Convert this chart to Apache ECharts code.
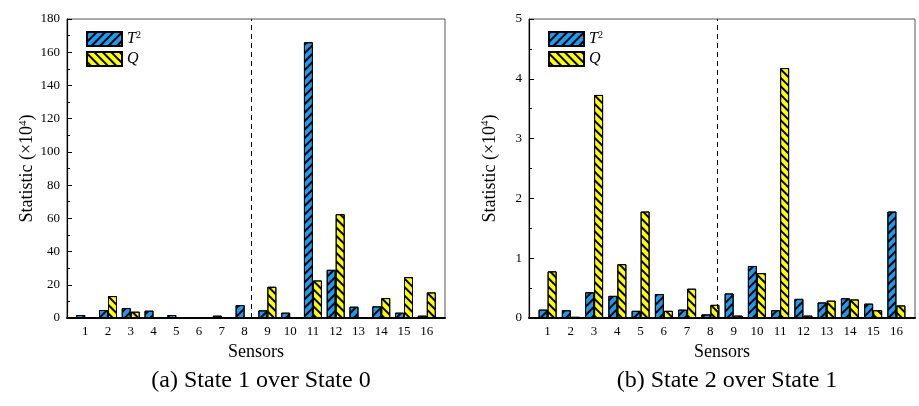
<!DOCTYPE html>
<html>
<head>
<meta charset="utf-8">
<script src="https://cdn.jsdelivr.net/npm/echarts@6/dist/echarts.min.js"></script>
<style>
html,body{margin:0;padding:0;background:#fff;}
#c{width:919px;height:406px;}
</style>
</head>
<body>
<div id="c"></div>
<script>
// ---- data ----
const sensors = [1, 2, 3, 4, 5, 6, 7, 8, 9, 10, 11, 12, 13, 14, 15, 16];
const leftT2 = [1.8, 4.8, 6.0, 4.4, 1.8, 0.3, 1.4, 7.8, 4.6, 3.2, 166, 29, 6.8, 7.0, 3.2, 1.4];
const leftQ  = [0.6, 13.2, 3.8, 0, 0.2, 0.1, 0.3, 0, 18.8, 0, 22.6, 62.5, 0, 12.0, 24.6, 15.4];
const rightT2 = [0.14, 0.13, 0.43, 0.37, 0.12, 0.40, 0.14, 0.06, 0.41, 0.87, 0.13, 0.32, 0.26, 0.33, 0.24, 1.78];
const rightQ  = [0.78, 0.02, 3.73, 0.90, 1.78, 0.12, 0.49, 0.22, 0.04, 0.75, 4.18, 0.04, 0.29, 0.31, 0.13, 0.21];
const leftYTicks = [0, 180, 20];   // min, max, step
const rightYTicks = [0, 5, 1];
const dividerAt = 8.5;
const captions = ['(a) State 1 over State 0', '(b) State 2 over State 1'];
const seriesNames = ['T2', 'Q'];

// ---- styles ----
const FONT = 'Liberation Serif';
const BLUE = '#1E9BF0';
const YELLOW = '#FFFF00';
const decalT2 = { symbol: 'rect', symbolSize: 1, color: '#000', dashArrayX: [1, 0], dashArrayY: [1.2, 3.4], rotation: -Math.PI / 4 };
const decalQ  = { symbol: 'rect', symbolSize: 1, color: '#000', dashArrayX: [1, 0], dashArrayY: [1.2, 3.4], rotation: Math.PI / 4 };

const grids = [
  { left: 67, top: 19, width: 378, height: 299 },
  { left: 529, top: 19, width: 386, height: 299 }
];

function xAxisFor(i) {
  return {
    type: 'value', gridIndex: i, min: 0.2, max: 16.8,
    name: 'Sensors', nameLocation: 'middle', nameGap: 25,
    nameTextStyle: { fontFamily: FONT, fontSize: 18, color: '#000' },
    axisLine: { show: true, onZero: false, lineStyle: { color: '#000', width: 2 } },
    axisTick: { show: false },
    splitLine: { show: false },
    axisLabel: { customValues: sensors, fontFamily: FONT, fontSize: 13, color: '#000', margin: 7 }
  };
}
function yAxisFor(i, t) {
  return {
    type: 'value', gridIndex: i, min: t[0], max: t[1], interval: t[2],
    name: 'Statistic (×10{sup|4})', nameLocation: 'middle', nameGap: 29, nameRotate: 90,
    nameTextStyle: { fontFamily: FONT, fontSize: 18, color: '#000',
      rich: { sup: { fontFamily: FONT, fontSize: 11, color: '#000', padding: [0, 0, 9, 0] } } },
    axisLine: { show: true, lineStyle: { color: '#000', width: 1.2 } },
    axisTick: { show: true, inside: true, length: 5, lineStyle: { color: '#000' } },
    minorTick: { show: true, splitNumber: 2, length: 3, lineStyle: { color: '#000' } },
    splitLine: { show: false },
    axisLabel: { fontFamily: FONT, fontSize: 13, color: '#000', margin: 7 }
  };
}
function barSeries(name, vals, axisIdx, color, decal, withLine) {
  const s = {
    name: name, type: 'bar', xAxisIndex: axisIdx, yAxisIndex: axisIdx,
    data: sensors.map((x, k) => [x, vals[k]]),
    barWidth: 9, barGap: '0%',
    itemStyle: { color: color, borderColor: '#000', borderWidth: 1, decal: decal },
    emphasis: { disabled: true }
  };
  if (withLine) {
    s.markLine = {
      silent: true, symbol: 'none', label: { show: false },
      lineStyle: { color: '#000', type: [5, 4], width: 1 },
      data: [{ xAxis: dividerAt }]
    };
  }
  return s;
}
function legendFor(left) {
  return {
    orient: 'vertical', left: left, top: 30, padding: 0, itemWidth: 35, itemHeight: 14, itemGap: 4,
    icon: 'rect', data: seriesNames,
    formatter: n => n === 'T2' ? '{it|T}{sup|2}' : '{it|Q}',
    textStyle: { fontFamily: FONT, fontSize: 16, color: '#000',
      rich: { it: { fontFamily: FONT, fontStyle: 'italic', fontSize: 16 },
              sup: { fontFamily: FONT, fontSize: 10, padding: [0, 0, 8, 0] } } }
  };
}

const chart = echarts.init(document.getElementById('c'), null, { renderer: 'canvas' });
chart.setOption({
  animation: false,
  backgroundColor: '#fff',
  grid: grids.map(g => Object.assign({ show: true, borderColor: '#555', borderWidth: 1, backgroundColor: 'transparent' }, g)),
  xAxis: [xAxisFor(0), xAxisFor(1)],
  yAxis: [yAxisFor(0, leftYTicks), yAxisFor(1, rightYTicks)],
  legend: [legendFor(86), legendFor(548)],
  title: captions.map((c, i) => ({
    text: c, left: grids[i].left + grids[i].width / 2, top: 364, textAlign: 'center',
    textStyle: { fontFamily: FONT, fontSize: 24, fontWeight: 'normal', color: '#000' }
  })),
  series: [
    barSeries('T2', leftT2, 0, BLUE, decalT2, true),
    barSeries('Q', leftQ, 0, YELLOW, decalQ, false),
    barSeries('T2', rightT2, 1, BLUE, decalT2, true),
    barSeries('Q', rightQ, 1, YELLOW, decalQ, false)
  ]
});
</script>
</body>
</html>
